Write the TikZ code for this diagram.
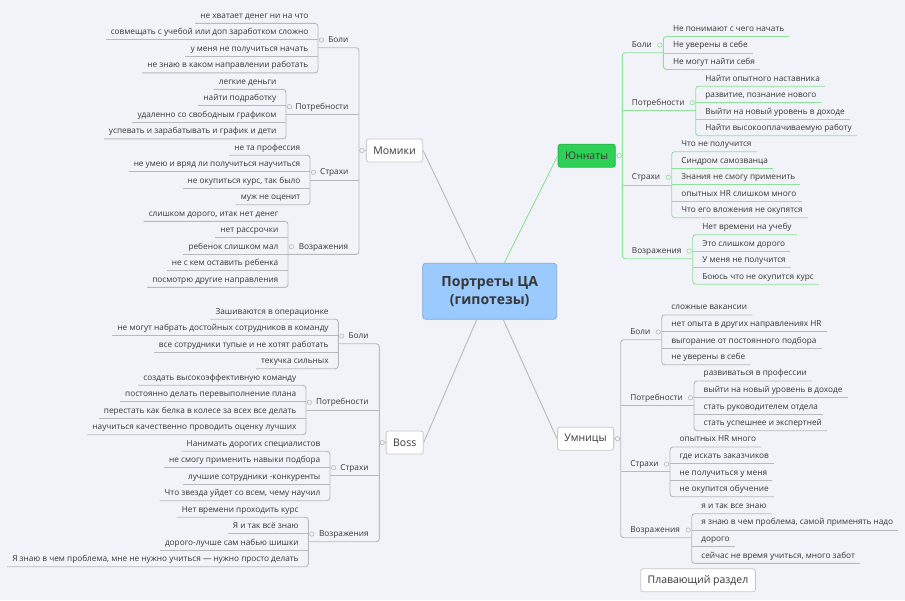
\documentclass[tikz,border=0pt]{standalone}
\usepackage{fontspec}
\setmainfont{Open Sans}
\usetikzlibrary{calc}

\definecolor{paper}{RGB}{242,243,248}
\definecolor{ink}{RGB}{55,55,55}
\definecolor{wiregray}{RGB}{185,185,188}
\definecolor{wiregreen}{RGB}{140,226,155}
\definecolor{rootblue}{RGB}{155,202,255}
\definecolor{rootedge}{RGB}{128,168,212}
\definecolor{topicgreen}{RGB}{46,208,86}
\definecolor{topicedge}{RGB}{200,200,204}

\tikzset{
    wire/.style={draw=wiregray, line width=0.9pt},
    gwire/.style={draw=wiregreen, line width=0.9pt},
    leaf/.style={font=\fontsize{8.25}{10}\selectfont, text=ink, inner xsep=5pt, inner ysep=3pt, text height=7pt, text depth=2pt},
    branch/.style={leaf, inner xsep=4pt},
    knob/.style={circle, draw=wiregray, fill=paper, line width=0.6pt, inner sep=0pt, minimum size=4.4pt},
    gknob/.style={knob, draw=wiregreen},
    topic/.style={font=\fontsize{10.5}{12}\selectfont, text=ink, draw=topicedge, fill=white, line width=0.8pt, rounded corners=2.5pt, inner xsep=7pt, minimum height=23pt},
    root/.style={font=\fontsize{14}{18}\selectfont\bfseries, text=ink, align=center, draw=rootedge, fill=rootblue, line width=0.8pt, rounded corners=3pt, minimum width=134pt, minimum height=56pt}
}

\begin{document}
\begin{tikzpicture}[x=1pt, y=-1pt]
            \fill[paper] (0,0) rectangle (905,600);
            \useasboundingbox (0,0) rectangle (905,600);

            \node[root] (root) at (489.7,291.3) {Портреты ЦА\\(гипотезы)};
            \node[topic, anchor=west] (momiki) at (366,150.5) {Момики};
            \node[topic, anchor=west] (boss) at (385.7,442.5) {Boss};
            \node[topic, anchor=east, fill=topicgreen, draw=topicgreen!85!black] (yun) at (615.7,155.7) {Юннаты};
            \node[topic, anchor=east] (umn) at (614,438.7) {Умницы};
            \node[topic] (float) at (698,580.3) {Плавающий раздел};

            \draw[wire] ([xshift=-13pt]root.north) -- (momiki.east);
            \draw[gwire] ([xshift=14.6pt]root.north) -- (yun.west);
            \draw[wire] ([xshift=-13pt]root.south) -- (boss.east);
            \draw[wire] ([xshift=13.6pt]root.south) -- (umn.west);

            \coordinate (mt) at (359,0);
            \coordinate (mb1) at (318,0);
            \coordinate (mb2) at (286,0);
            \coordinate (mb3) at (310,0);
            \coordinate (mb4) at (288,0);

            \node[leaf, anchor=east] (m11) at (313.5,15.7) {не хватает денег ни на что};
            \node[leaf, anchor=east] (m12) at (313.5,32.2) {совмещать с учебой или доп заработком сложно};
            \node[leaf, anchor=east] (m13) at (313.5,48.7) {у меня не получиться начать};
            \node[leaf, anchor=east] (m14) at (313.5,65.2) {не знаю в каком направлении работать};
            \node[branch, anchor=east] (mBoli) at (352.5,40) {Боли};

            \node[leaf, anchor=east] (m21) at (281.5,81.7) {легкие деньги};
            \node[leaf, anchor=east] (m22) at (281.5,98.2) {найти подработку};
            \node[leaf, anchor=east] (m23) at (281.5,114.7) {удаленно со свободным графиком};
            \node[leaf, anchor=east] (m24) at (281.5,131.2) {успевать и зарабатывать и график и дети};
            \node[branch, anchor=east] (mPot) at (352.5,106.7) {Потребности};

            \node[leaf, anchor=east] (m31) at (305.5,147.5) {не та профессия};
            \node[leaf, anchor=east] (m32) at (305.5,164) {не умею и вряд ли получиться научиться};
            \node[leaf, anchor=east] (m33) at (305.5,180.5) {не окупиться курс, так было};
            \node[leaf, anchor=east] (m34) at (305.5,197) {муж не оценит};
            \node[branch, anchor=east] (mStr) at (352.5,172.3) {Страхи};

            \node[leaf, anchor=east] (m41) at (283.5,213.7) {слишком дорого, итак нет денег};
            \node[leaf, anchor=east] (m42) at (283.5,230.2) {нет рассрочки};
            \node[leaf, anchor=east] (m43) at (283.5,246.7) {ребенок слишком мал};
            \node[leaf, anchor=east] (m44) at (283.5,263.2) {не с кем оставить ребенка};
            \node[leaf, anchor=east] (m45) at (283.5,279.7) {посмотрю другие направления};
            \node[branch, anchor=east] (mVoz) at (352.5,246.7) {Возражения};

            \draw[wire, rounded corners=3pt] (m11.south west) -| (mb1 |- m14.south) -- (m14.south west);
            \draw[wire] (m12.south west) -- (m12.south -| mb1);
            \draw[wire] (m13.south west) -- (m13.south -| mb1);
            \draw[wire, rounded corners=3pt] (m21.south west) -| (mb2 |- m24.south) -- (m24.south west);
            \draw[wire] (m22.south west) -- (m22.south -| mb2);
            \draw[wire] (m23.south west) -- (m23.south -| mb2);
            \draw[wire, rounded corners=3pt] (m31.south west) -| (mb3 |- m34.south) -- (m34.south west);
            \draw[wire] (m32.south west) -- (m32.south -| mb3);
            \draw[wire] (m33.south west) -- (m33.south -| mb3);
            \draw[wire, rounded corners=3pt] (m41.south west) -| (mb4 |- m45.south) -- (m45.south west);
            \draw[wire] (m42.south west) -- (m42.south -| mb4);
            \draw[wire] (m43.south west) -- (m43.south -| mb4);
            \draw[wire] (m44.south west) -- (m44.south -| mb4);

            \draw[wire, rounded corners=3pt] (mb1 |- mBoli.south) -| (mt |- mVoz.south) -- (mb4 |- mVoz.south);
            \draw[wire] (mb2 |- mPot.south) -- (mt |- mPot.south);
            \draw[wire] (mb3 |- mStr.south) -- (mt |- mStr.south);
            \draw[wire] (mt |- momiki.west) -- (momiki.west);
            \node[knob] at ($(mb1 |- mBoli.west)+(3.5,0)$) {};
            \node[knob] at ($(mb2 |- mPot.west)+(3.5,0)$) {};
            \node[knob] at ($(mb3 |- mStr.west)+(3.5,0)$) {};
            \node[knob] at ($(mb4 |- mVoz.west)+(3.5,0)$) {};
            \node[knob] at ($(momiki.west)+(-4,0)$) {};

            \coordinate (bt) at (379.3,0);
            \coordinate (bb1) at (338.3,0);
            \coordinate (bb2) at (306,0);
            \coordinate (bb3) at (330,0);
            \coordinate (bb4) at (308.3,0);

            \node[leaf, anchor=east] (b11) at (333.8,311.5) {Зашиваются в операционке};
            \node[leaf, anchor=east] (b12) at (333.8,328) {не могут набрать достойных сотрудников в команду};
            \node[leaf, anchor=east] (b13) at (333.8,344.5) {все сотрудники тупые и не хотят работать};
            \node[leaf, anchor=east] (b14) at (333.8,361) {текучка сильных};
            \node[branch, anchor=east] (bBoli) at (372.8,336) {Боли};

            \node[leaf, anchor=east] (b21) at (301.5,377.5) {создать высокоэффективную команду};
            \node[leaf, anchor=east] (b22) at (301.5,394) {постоянно делать перевыполнение плана};
            \node[leaf, anchor=east] (b23) at (301.5,410.5) {перестать как белка в колесе за всех все делать};
            \node[leaf, anchor=east] (b24) at (301.5,427) {научиться качественно проводить оценку лучших};
            \node[branch, anchor=east] (bPot) at (372.8,402.3) {Потребности};

            \node[leaf, anchor=east] (b31) at (325.5,443.5) {Нанимать дорогих специалистов};
            \node[leaf, anchor=east] (b32) at (325.5,460) {не смогу применить навыки подбора};
            \node[leaf, anchor=east] (b33) at (325.5,476.5) {лучшие сотрудники -конкуренты};
            \node[leaf, anchor=east] (b34) at (325.5,493) {Что звезда уйдет со всем, чему научил};
            \node[branch, anchor=east] (bStr) at (372.8,467.7) {Страхи};

            \node[leaf, anchor=east] (b41) at (303.8,509.5) {Нет времени проходить курс};
            \node[leaf, anchor=east] (b42) at (303.8,526) {Я и так всё знаю};
            \node[leaf, anchor=east] (b43) at (303.8,542.5) {дорого-лучше сам набью шишки};
            \node[leaf, anchor=east] (b44) at (303.8,559) {Я знаю в чем проблема, мне не нужно учиться — нужно просто делать};
            \node[branch, anchor=east] (bVoz) at (372.8,534) {Возражения};

            \draw[wire, rounded corners=3pt] (b11.south west) -| (bb1 |- b14.south) -- (b14.south west);
            \draw[wire] (b12.south west) -- (b12.south -| bb1);
            \draw[wire] (b13.south west) -- (b13.south -| bb1);
            \draw[wire, rounded corners=3pt] (b21.south west) -| (bb2 |- b24.south) -- (b24.south west);
            \draw[wire] (b22.south west) -- (b22.south -| bb2);
            \draw[wire] (b23.south west) -- (b23.south -| bb2);
            \draw[wire, rounded corners=3pt] (b31.south west) -| (bb3 |- b34.south) -- (b34.south west);
            \draw[wire] (b32.south west) -- (b32.south -| bb3);
            \draw[wire] (b33.south west) -- (b33.south -| bb3);
            \draw[wire, rounded corners=3pt] (b41.south west) -| (bb4 |- b44.south) -- (b44.south west);
            \draw[wire] (b42.south west) -- (b42.south -| bb4);
            \draw[wire] (b43.south west) -- (b43.south -| bb4);

            \draw[wire, rounded corners=3pt] (bb1 |- bBoli.south) -| (bt |- bVoz.south) -- (bb4 |- bVoz.south);
            \draw[wire] (bb2 |- bPot.south) -- (bt |- bPot.south);
            \draw[wire] (bb3 |- bStr.south) -- (bt |- bStr.south);
            \draw[wire] (bt |- boss.west) -- (boss.west);
            \node[knob] at ($(bb1 |- bBoli.west)+(3.5,0)$) {};
            \node[knob] at ($(bb2 |- bPot.west)+(3.5,0)$) {};
            \node[knob] at ($(bb3 |- bStr.west)+(3.5,0)$) {};
            \node[knob] at ($(bb4 |- bVoz.west)+(3.5,0)$) {};
            \node[knob] at ($(boss.west)+(-3.5,0)$) {};

            \coordinate (yt) at (622.3,0);
            \coordinate (yb1) at (663.3,0);
            \coordinate (yb2) at (695.7,0);
            \coordinate (yb3) at (671.7,0);
            \coordinate (yb4) at (692.7,0);

            \node[leaf, anchor=west] (y11) at (667.8,28.8) {Не понимают с чего начать};
            \node[leaf, anchor=west] (y12) at (667.8,45.3) {Не уверены в себе};
            \node[leaf, anchor=west] (y13) at (667.8,61.8) {Не могут найти себя};
            \node[branch, anchor=west] (yBoli) at (627.7,45) {Боли};

            \node[leaf, anchor=west] (y21) at (700.2,78.5) {Найти опытного наставника};
            \node[leaf, anchor=west] (y22) at (700.2,95) {развитие, познание нового};
            \node[leaf, anchor=west] (y23) at (700.2,111.5) {Выйти на новый уровень в доходе};
            \node[leaf, anchor=west] (y24) at (700.2,128) {Найти высокооплачиваемую работу};
            \node[branch, anchor=west] (yPot) at (627.7,102.7) {Потребности};

            \node[leaf, anchor=west] (y31) at (676.2,144) {Что не получится};
            \node[leaf, anchor=west] (y32) at (676.2,160.5) {Синдром самозванца};
            \node[leaf, anchor=west] (y33) at (676.2,177) {Знания не смогу применить};
            \node[leaf, anchor=west] (y34) at (676.2,193.5) {опытных HR слишком много};
            \node[leaf, anchor=west] (y35) at (676.2,210) {Что его вложения не окупятся};
            \node[branch, anchor=west] (yStr) at (627.7,177.3) {Страхи};

            \node[leaf, anchor=west] (y41) at (697.2,227) {Нет времени на учебу};
            \node[leaf, anchor=west] (y42) at (697.2,243.5) {Это слишком дорого};
            \node[leaf, anchor=west] (y43) at (697.2,260) {У меня не получится};
            \node[leaf, anchor=west] (y44) at (697.2,276.5) {Боюсь что не окупится курс};
            \node[branch, anchor=west] (yVoz) at (627.7,251) {Возражения};

            \draw[gwire, rounded corners=3pt] (y11.south east) -| (yb1 |- y13.south) -- (y13.south east);
            \draw[gwire] (y12.south east) -- (y12.south -| yb1);
            \draw[gwire, rounded corners=3pt] (y21.south east) -| (yb2 |- y24.south) -- (y24.south east);
            \draw[gwire] (y22.south east) -- (y22.south -| yb2);
            \draw[gwire] (y23.south east) -- (y23.south -| yb2);
            \draw[gwire, rounded corners=3pt] (y31.south east) -| (yb3 |- y35.south) -- (y35.south east);
            \draw[gwire] (y32.south east) -- (y32.south -| yb3);
            \draw[gwire] (y33.south east) -- (y33.south -| yb3);
            \draw[gwire] (y34.south east) -- (y34.south -| yb3);
            \draw[gwire, rounded corners=3pt] (y41.south east) -| (yb4 |- y44.south) -- (y44.south east);
            \draw[gwire] (y42.south east) -- (y42.south -| yb4);
            \draw[gwire] (y43.south east) -- (y43.south -| yb4);

            \draw[gwire, rounded corners=3pt] (yb1 |- yBoli.south) -| (yt |- yVoz.south) -- (yb4 |- yVoz.south);
            \draw[gwire] (yb2 |- yPot.south) -- (yt |- yPot.south);
            \draw[gwire] (yb3 |- yStr.south) -- (yt |- yStr.south);
            \draw[gwire] (yt |- yun.east) -- (yun.east);
            \node[gknob] at ($(yb1 |- yBoli.east)+(-3.5,0)$) {};
            \node[gknob] at ($(yb2 |- yPot.east)+(-3.5,0)$) {};
            \node[gknob] at ($(yb3 |- yStr.east)+(-3.5,0)$) {};
            \node[gknob] at ($(yb4 |- yVoz.east)+(-3.5,0)$) {};
            \node[gknob] at ($(yun.east)+(3.5,0)$) {};

            \coordinate (ut) at (620.7,0);
            \coordinate (ub1) at (661.7,0);
            \coordinate (ub2) at (694,0);
            \coordinate (ub3) at (670,0);
            \coordinate (ub4) at (691.7,0);

            \node[leaf, anchor=west] (u11) at (666.2,307.3) {сложные вакансии};
            \node[leaf, anchor=west] (u12) at (666.2,324) {нет опыта в других направлениях HR};
            \node[leaf, anchor=west] (u13) at (666.2,340.7) {выгорание от постоянного подбора};
            \node[leaf, anchor=west] (u14) at (666.2,357) {не уверены в себе};
            \node[branch, anchor=west] (uBoli) at (626.1,332) {Боли};

            \node[leaf, anchor=west] (u21) at (698.5,373.3) {развиваться в профессии};
            \node[leaf, anchor=west] (u22) at (698.5,390) {выйти на новый уровень в доходе};
            \node[leaf, anchor=west] (u23) at (698.5,406.7) {стать руководителем отдела};
            \node[leaf, anchor=west] (u24) at (698.5,423) {стать успешнее и экспертней};
            \node[branch, anchor=west] (uPot) at (626.1,397.7) {Потребности};

            \node[leaf, anchor=west] (u31) at (674.5,439.3) {опытных HR много};
            \node[leaf, anchor=west] (u32) at (674.5,456) {где искать заказчиков};
            \node[leaf, anchor=west] (u33) at (674.5,472.7) {не получиться у меня};
            \node[leaf, anchor=west] (u34) at (674.5,489) {не окупится обучение};
            \node[branch, anchor=west] (uStr) at (626.1,464) {Страхи};

            \node[leaf, anchor=west] (u41) at (696.2,506) {я и так все знаю};
            \node[leaf, anchor=west] (u42) at (696.2,522.3) {я знаю в чем проблема, самой применять надо};
            \node[leaf, anchor=west] (u43) at (696.2,539) {дорого};
            \node[leaf, anchor=west] (u44) at (696.2,555.7) {сейчас не время учиться, много забот};
            \node[branch, anchor=west] (uVoz) at (626.1,530) {Возражения};

            \draw[wire, rounded corners=3pt] (u11.south east) -| (ub1 |- u14.south) -- (u14.south east);
            \draw[wire] (u12.south east) -- (u12.south -| ub1);
            \draw[wire] (u13.south east) -- (u13.south -| ub1);
            \draw[wire, rounded corners=3pt] (u21.south east) -| (ub2 |- u24.south) -- (u24.south east);
            \draw[wire] (u22.south east) -- (u22.south -| ub2);
            \draw[wire] (u23.south east) -- (u23.south -| ub2);
            \draw[wire, rounded corners=3pt] (u31.south east) -| (ub3 |- u34.south) -- (u34.south east);
            \draw[wire] (u32.south east) -- (u32.south -| ub3);
            \draw[wire] (u33.south east) -- (u33.south -| ub3);
            \draw[wire, rounded corners=3pt] (u41.south east) -| (ub4 |- u44.south) -- (u44.south east);
            \draw[wire] (u42.south east) -- (u42.south -| ub4);
            \draw[wire] (u43.south east) -- (u43.south -| ub4);

            \draw[wire, rounded corners=3pt] (ub1 |- uBoli.south) -| (ut |- uVoz.south) -- (ub4 |- uVoz.south);
            \draw[wire] (ub2 |- uPot.south) -- (ut |- uPot.south);
            \draw[wire] (ub3 |- uStr.south) -- (ut |- uStr.south);
            \draw[wire] (ut |- umn.east) -- (umn.east);
            \node[knob] at ($(ub1 |- uBoli.east)+(-3.5,0)$) {};
            \node[knob] at ($(ub2 |- uPot.east)+(-3.5,0)$) {};
            \node[knob] at ($(ub3 |- uStr.east)+(-3.5,0)$) {};
            \node[knob] at ($(ub4 |- uVoz.east)+(-3.5,0)$) {};
            \node[knob] at ($(umn.east)+(3.5,0)$) {};
\end{tikzpicture}
\end{document}
